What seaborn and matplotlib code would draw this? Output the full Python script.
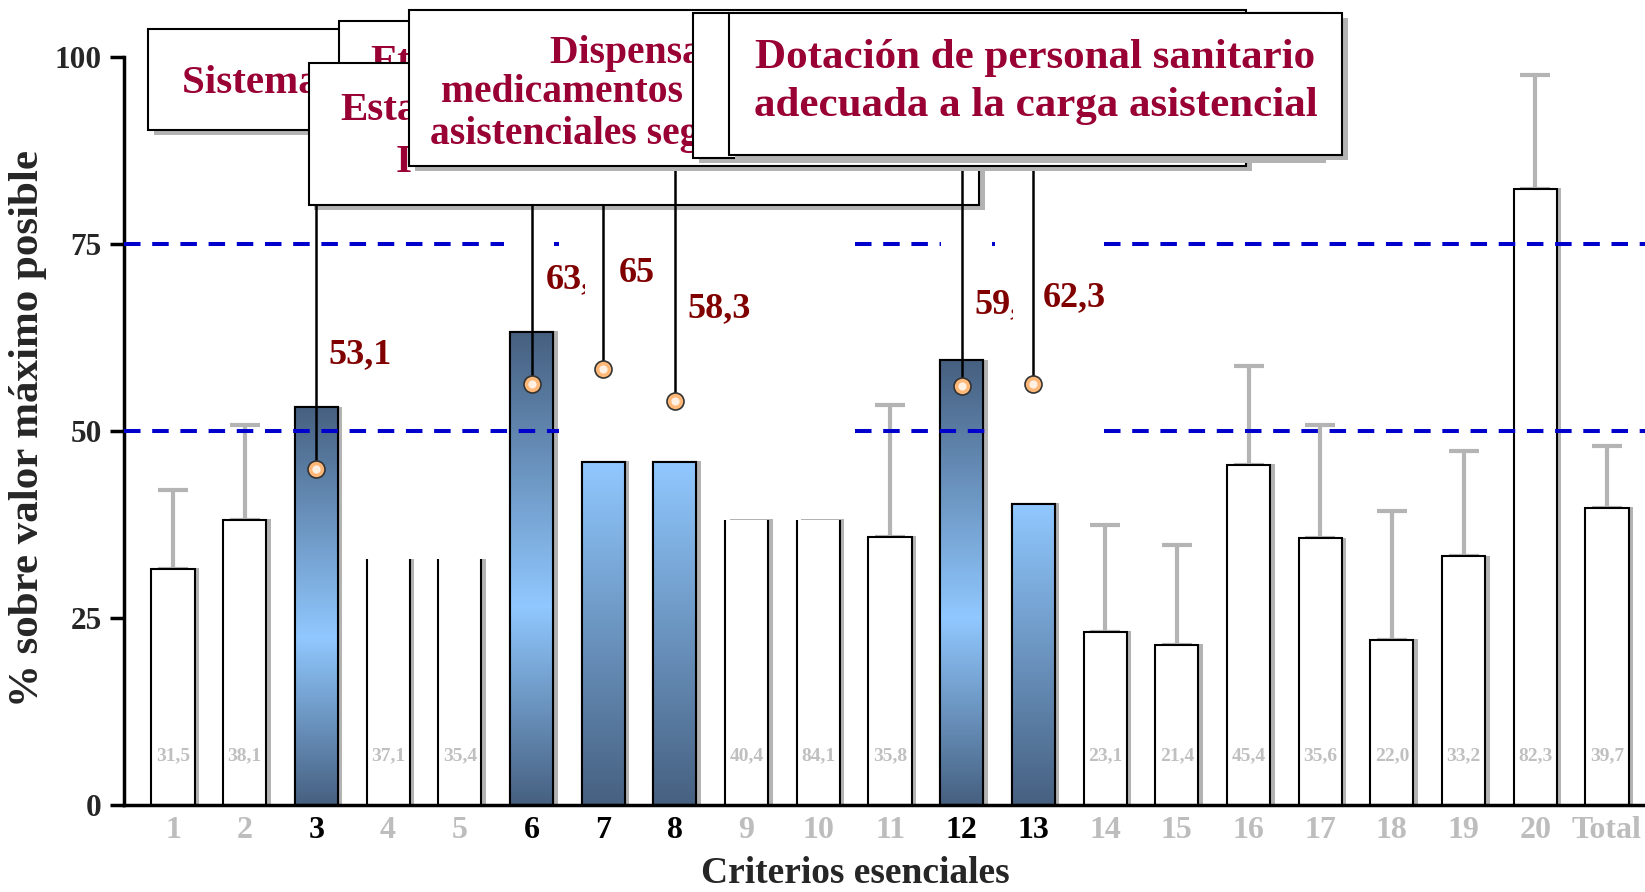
import numpy as np
import pandas as pd
import matplotlib.pyplot as plt
import matplotlib.patheffects as pe
from matplotlib.patches import Rectangle
from matplotlib.colors import LinearSegmentedColormap
import seaborn as sns

# Datos
criterios = [str(i) for i in range(1, 21)] + ['Total']
valores = [31.5, 38.1, 53.1, 32.8, 32.8, 63.2, 45.8, 45.8, 38.1, 38.1,
           35.8, 59.4, 40.2, 23.1, 21.4, 45.4, 35.6, 22.0, 33.2, 82.3, 39.7]
limite_sup = [42.1, 50.7, None, None, None, None, None, None, None, None,
              53.4, None, None, 37.4, 34.7, 58.6, 50.7, 39.3, 47.3, 97.5, 48.0]
etiquetas_base = ['31,5', '38,1', '', '37,1', '35,4', '', '', '', '40,4', '84,1',
                  '35,8', '', '', '23,1', '21,4', '45,4', '35,6', '22,0', '33,2', '82,3', '39,7']
destacados = ['3', '6', '7', '8', '12', '13']
sin_techo = ['4', '5', '9', '10']
marcadores = [44.9, 56.3, 58.3, 53.9, 56.0, 56.3]
etiquetas_rojas = ['53,1', '63,2', '65', '58,3', '59,4', '62,3']

oscuro, claro = '#466080', '#90c8ff'
gris, granate, rojo_caja = '#b4b4b4', '#800000', '#990033'

sns.set_theme(style='white')
plt.rcParams['font.family'] = ['Liberation Serif', 'DejaVu Serif']
plt.rcParams['font.weight'] = 'bold'

fig = plt.figure(figsize=(16.45, 8.92), dpi=100)
ax = fig.add_axes([0.0754, 0.0979, 0.9246, 0.8386])

df = pd.DataFrame({'criterio': criterios, 'valor': valores})
sns.barplot(data=df, x='criterio', y='valor', order=criterios, color='white',
            saturation=1, edgecolor='black', linewidth=1.5, width=0.6,
            ax=ax, zorder=2)

barras = ax.patches[:len(criterios)]
sombra_barra = [pe.SimplePatchShadow(offset=(3.3, 0.5), shadow_rgbFace='#b3b3b3', alpha=1.0),
                pe.Normal()]
for c, p in zip(criterios, barras):
    p.set_path_effects(sombra_barra)
    if c in sin_techo:
        p.set_edgecolor('none')
        x0, w, h = p.get_x(), p.get_width(), p.get_height()
        ax.vlines([x0, x0 + w], 0, h, color='black', lw=1.5, zorder=2.1)

# degradados de las barras destacadas
cmap_doble = LinearSegmentedColormap.from_list('doble', [(0, oscuro), (0.42, claro), (1, oscuro)])
cmap_simple = LinearSegmentedColormap.from_list('simple', [(0, oscuro), (1, claro)])
grad = np.linspace(0, 1, 256).reshape(-1, 1)
for c in destacados:
    p = barras[criterios.index(c)]
    cm = cmap_doble if c in ('3', '6', '12') else cmap_simple
    x0, w, h = p.get_x(), p.get_width(), p.get_height()
    im = ax.imshow(grad, extent=[x0, x0 + w, 0, h], origin='lower', aspect='auto',
                   cmap=cm, zorder=2.05, interpolation='bilinear')
    im.set_clip_path(p)
    ax.add_patch(Rectangle((x0, 0), w, h, fill=False, ec='black', lw=1.5, zorder=2.1))

# barras de error (solo superior)
idx = [i for i, s in enumerate(limite_sup) if s is not None]
ax.errorbar(x=idx, y=[valores[i] for i in idx],
            yerr=[[0] * len(idx), [limite_sup[i] - valores[i] for i in idx]],
            fmt='none', ecolor=gris, elinewidth=3, capsize=11, capthick=3, zorder=1.8)

for i, t in enumerate(etiquetas_base):
    if t:
        ax.text(i, 6.0, t, ha='center', va='baseline', color='#c0c0c0',
                fontsize=14, fontweight='bold', zorder=3)

# lineas de referencia discontinuas (tapadas en parte por los recuadros)
tramos = {75: [(-0.69, 4.62), (5.32, 5.38), (9.51, 10.71), (11.42, 11.47), (12.98, 20.6)],
          50: [(-0.69, 5.38), (9.51, 11.44), (12.98, 20.6)]}
for y, segs in tramos.items():
    for a, b in segs:
        ax.plot([a, b], [y, y], color='#0000cc', lw=2.9, ls=(0, (4.1, 2.9)),
                solid_capstyle='butt', dash_capstyle='butt', zorder=3)

# etiquetas rojas de valor
pos_rojas = [(2.17, 59.0), (5.20, 69.0), (6.21, 69.9), (7.18, 65.2), (11.18, 65.7), (12.13, 66.6)]
for k, ((x, y), t) in enumerate(zip(pos_rojas, etiquetas_rojas)):
    ax.text(x, y, t, ha='left', va='baseline', color=granate, fontsize=26,
            fontweight='bold', zorder=4 + 0.1 * k)
ax.add_patch(Rectangle((5.74, 64), 0.4, 10, fc='white', ec='none', zorder=4.15))
ax.add_patch(Rectangle((11.72, 63), 0.35, 7, fc='white', ec='none', zorder=4.45))

# lineas de llamada y marcadores
topes = [80.2, 80.2, 80.2, 85.4, 86.5, 86.5]
xs = [criterios.index(c) for c in destacados]
ax.vlines(xs, marcadores, topes, color='black', lw=1.8, zorder=12.5)
ax.scatter(xs, marcadores, s=150, c='#ffb878', edgecolors='#333333', linewidths=1.2, zorder=12.6)
ax.scatter(xs, marcadores, s=35, c='#fff0e4', linewidths=0, zorder=12.7)

# recuadros superpuestos
sombra_caja = [pe.SimplePatchShadow(offset=(4.3, -3.6), shadow_rgbFace='#b3b3b3', alpha=1.0),
               pe.Normal()]


def caja(x0, y0, x1, y1, z):
    r = Rectangle((x0, y0), x1 - x0, y1 - y0, fc='white', ec='black', lw=1.5,
                  zorder=z, clip_on=False)
    r.set_path_effects(sombra_caja)
    ax.add_patch(r)


def texto(x, y, s, z, ha='left', size=29.5):
    ax.text(x, y, s, ha=ha, va='baseline', color=rojo_caja, fontsize=size,
            fontweight='bold', zorder=z)


caja(-0.35, 90.2, 5.0, 103.7, 10)
texto(0.12, 95.1, 'Sistema de', 10.5)
caja(2.31, 90.0, 9.5, 104.7, 11)
texto(2.75, 98.0, 'Etiquetado', 11.5)
caja(1.89, 80.2, 11.24, 99.2, 12)
texto(2.33, 91.5, 'Establecimiento', 12.2)
texto(3.11, 84.6, 'I', 12.2)
caja(3.29, 85.4, 14.96, 106.2, 13)
texto(5.26, 99.2, 'Dispensación de', 13.5, size=28.5)
texto(3.74, 94.0, 'medicamentos y', 13.5, size=28.5)
texto(3.59, 88.3, 'asistenciales seguras', 13.5, size=28.5)
caja(7.25, 86.5, 16.0, 105.9, 14)
caja(7.75, 86.8, 16.31, 105.8, 15)
texto(12.03, 98.5, 'Dotación de personal sanitario', 15.5, ha='center', size=31)
texto(12.03, 92.1, 'adecuada a la carga asistencial', 15.5, ha='center', size=31)

# ejes
ax.set_xlim(-0.683, 20.53)
ax.set_ylim(0, 100)
ax.set_yticks([0, 25, 50, 75, 100])
sns.despine(ax=ax)
for s in ('left', 'bottom'):
    ax.spines[s].set_linewidth(2.5)
    ax.spines[s].set_color('black')
ax.tick_params(axis='y', length=10, width=2.5, direction='out', labelsize=22.5, pad=6,
               left=True, color='black')
ax.tick_params(axis='x', length=0, labelsize=23, pad=8)
for lab in ax.get_yticklabels():
    lab.set_fontweight('bold')
for lab, c in zip(ax.get_xticklabels(), criterios):
    lab.set_fontweight('bold')
    lab.set_color('black' if c in destacados else '#bdbdbd')

ax.set_xlabel('Criterios esenciales', fontsize=27, fontweight='bold')
ax.set_ylabel('% sobre valor máximo posible', fontsize=31, fontweight='bold')
ax.xaxis.set_label_coords(0.4806, -0.068)
ax.yaxis.set_label_coords(-0.0506, 0.503)

fig.savefig('out.png', dpi=100)
